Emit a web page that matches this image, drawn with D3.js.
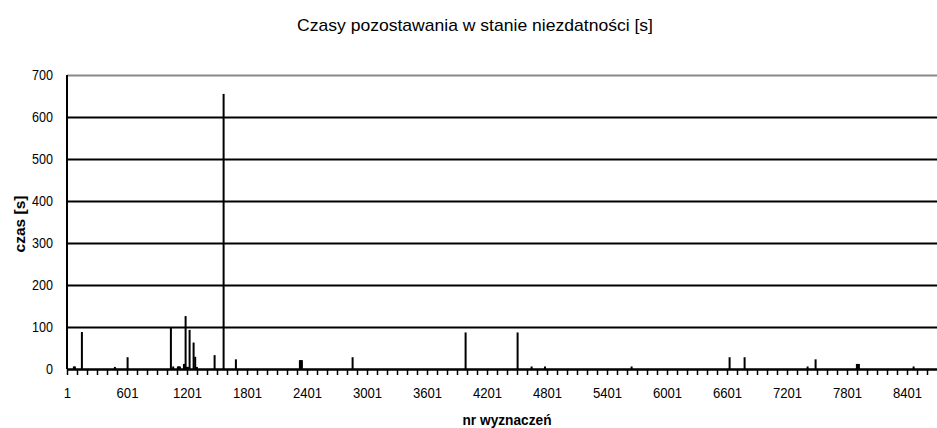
<!DOCTYPE html>
<html>
<head>
<meta charset="utf-8">
<script src="https://cdn.jsdelivr.net/npm/d3@7"></script>
<style>
  body { margin: 0; background: #fff; }
  text { font-family: "Liberation Sans", Arial, sans-serif; fill: #000; }
</style>
</head>
<body>
<svg id="chart" width="937" height="428"></svg>
<script>
// spikes of the series (all other measurements are 0)
var spikeIndex = [70, 80, 150, 480, 607, 1040, 1063, 1110, 1120, 1130, 1170, 1180, 1187, 1200, 1210,
                  1227, 1267, 1283, 1300, 1477, 1567, 1690, 2330, 2340, 2350, 2857, 3987, 4507,
                  4647, 4781, 5647, 6627, 6777, 7407, 7487, 7900, 7910, 7920, 8467];
var spikeValue = [6, 6, 88, 5, 28, 99, 6, 6, 6, 6, 12, 12, 126, 5, 5,
                  93, 63, 29, 5, 33, 655, 23, 21, 21, 21, 28, 87, 87,
                  6, 6, 6, 28, 28, 6, 23, 12, 12, 12, 6];
var nPoints = 8700;
var xLabels = ["1", "601", "1201", "1801", "2401", "3001", "3601", "4201", "4801",
               "5401", "6001", "6601", "7201", "7801", "8401"];
var yTicks = [0, 100, 200, 300, 400, 500, 600, 700];

var title = "Czasy pozostawania w stanie niezdatności [s]",
    xTitle = "nr wyznaczeń",
    yTitle = "czas [s]";

var data = spikeIndex.map(function(d, i) { return { i: d, v: spikeValue[i] }; });

var plotL = 67, plotR = 937, plotT = 75, plotB = 369;
var svg = d3.select("#chart");

var x = d3.scaleLinear().domain([1, nPoints + 1]).range([plotL, plotR]);
var y = d3.scaleLinear().domain([0, 700]).range([plotB, plotT]);

// y gridlines + labels
var yAxis = svg.append("g")
    .attr("transform", "translate(" + plotL + ",0)")
    .call(d3.axisLeft(y).tickValues(yTicks).tickSize(-(plotR - plotL)).tickPadding(14));
yAxis.select(".domain").remove();
yAxis.selectAll(".tick line")
    .attr("stroke", function(d) { return d == 700 ? "#888" : "#000"; })
    .attr("stroke-width", 2);
yAxis.selectAll(".tick text")
    .attr("font-size", 15)
    .attr("textLength", function(d) { return String(d).length * 7; })
    .attr("lengthAdjust", "spacingAndGlyphs");

// x axis: a tick every 100 measurements, label every 600
var xAxis = svg.append("g")
    .attr("transform", "translate(0," + plotB + ")")
    .call(d3.axisBottom(x)
        .tickValues(d3.range(1, nPoints, 100))
        .tickSizeInner(6).tickSizeOuter(0).tickPadding(12)
        .tickFormat(function(d) { return xLabels.indexOf(String(d)) >= 0 ? String(d) : ""; }));
xAxis.select(".domain").attr("stroke", "#000").attr("stroke-width", 2);
xAxis.selectAll(".tick line").attr("stroke", "#000").attr("stroke-width", 1.5);
xAxis.selectAll(".tick text")
    .attr("font-size", 15)
    .attr("textLength", function(d) { return String(d).length * 7.3; })
    .attr("lengthAdjust", "spacingAndGlyphs");

// left axis line
svg.append("line")
    .attr("x1", plotL).attr("x2", plotL)
    .attr("y1", plotT).attr("y2", plotB)
    .attr("stroke", "#000").attr("stroke-width", 2);

// bars
svg.append("g").selectAll("rect")
    .data(data)
  .enter().append("rect")
    .attr("x", function(d) { return x(d.i) - 1; })
    .attr("y", function(d) { return y(d.v); })
    .attr("width", 2)
    .attr("height", function(d) { return y(0) - y(d.v); })
    .attr("fill", "#000");

// titles
svg.append("text")
    .attr("x", 475).attr("y", 31)
    .attr("text-anchor", "middle")
    .attr("font-size", 17)
    .attr("textLength", 356).attr("lengthAdjust", "spacingAndGlyphs")
    .text(title);

svg.append("text")
    .attr("x", 507).attr("y", 425)
    .attr("text-anchor", "middle")
    .attr("font-size", 14).attr("font-weight", "bold")
    .attr("textLength", 89).attr("lengthAdjust", "spacingAndGlyphs")
    .text(xTitle);

svg.append("text")
    .attr("transform", "translate(25,224) rotate(-90)")
    .attr("text-anchor", "middle")
    .attr("font-size", 14).attr("font-weight", "bold")
    .attr("textLength", 57).attr("lengthAdjust", "spacingAndGlyphs")
    .text(yTitle);
</script>
</body>
</html>
